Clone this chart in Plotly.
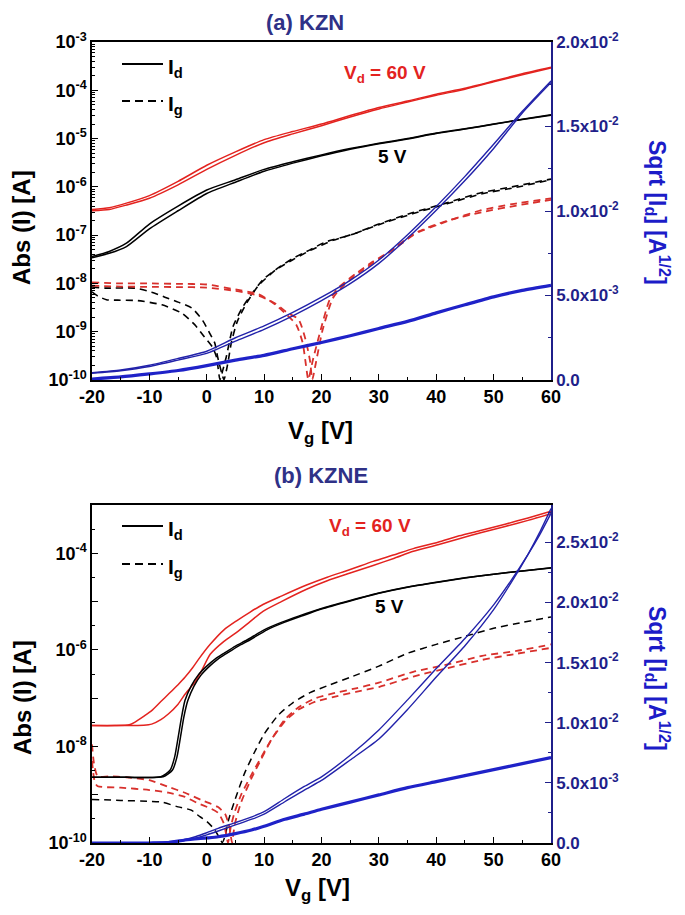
import plotly.graph_objects as go

# ---------------- DATA ----------------
# (a) KZN ------------------------------------------------------
a_id60_fwd_vg = [-20, -17, -14, -10, -5, 0, 5, 10, 15, 20, 25, 30, 35, 40, 45, 50, 55, 60]
a_id60_fwd = [3.4e-7, 3.7e-7, 4.6e-7, 6.6e-7, 1.3e-6, 2.8e-6, 5.3e-6, 9.5e-6, 1.4e-5, 2.0e-5, 3.0e-5,
              4.4e-5, 6.0e-5, 8.3e-5, 1.1e-4, 1.55e-4, 2.2e-4, 3.0e-4]
a_id60_rev_vg = [-20, -17, -14, -10, -5, 0, 5, 10, 15, 20, 25, 30, 35, 40, 45, 50, 55, 60]
a_id60_rev = [3.2e-7, 3.4e-7, 4.2e-7, 5.8e-7, 1.1e-6, 2.3e-6, 4.5e-6, 8.2e-6, 1.25e-5, 1.85e-5, 2.8e-5,
              4.1e-5, 5.7e-5, 7.9e-5, 1.05e-4, 1.5e-4, 2.1e-4, 2.9e-4]
a_id5_fwd_vg = [-20, -17, -14, -10, -5, 0, 5, 10, 15, 20, 25, 30, 35, 40, 45, 50, 55, 60]
a_id5_fwd = [3.6e-8, 4.6e-8, 6.8e-8, 1.7e-7, 4.0e-7, 8.6e-7, 1.4e-6, 2.3e-6, 3.3e-6, 4.6e-6, 6.2e-6,
             8.0e-6, 1.0e-5, 1.3e-5, 1.6e-5, 2.0e-5, 2.5e-5, 3.1e-5]
a_id5_rev_vg = [-20, -17, -14, -10, -5, 0, 5, 10, 15, 20, 25, 30, 35, 40, 45, 50, 55, 60]
a_id5_rev = [3.4e-8, 4.2e-8, 5.8e-8, 1.35e-7, 3.2e-7, 7.3e-7, 1.25e-6, 2.1e-6, 3.1e-6, 4.4e-6, 6.0e-6,
             7.8e-6, 9.8e-6, 1.27e-5, 1.57e-5, 1.98e-5, 2.48e-5, 3.05e-5]
a_ig5_a_vg = [-20, -19, -17.5, -15.5, -12, -7.8, -4.3, -2.1, -0.4, 1.0, 1.7, 2.3, 2.8, 3.4, 4.6, 6.3, 7.5,
              9.8, 12.7, 15, 17.9, 20.8, 25, 30, 35.8, 41.7, 47.5, 53.2, 60]
a_ig5_a = [6.7e-9, 5.5e-9, 4.6e-9, 4.5e-9, 4.4e-9, 3.6e-9, 2.4e-9, 1.4e-9, 7.8e-10, 4.8e-10, 3.0e-10,
           1.02e-10, 1.6e-10, 3.0e-10, 1.3e-9, 3.3e-9, 5.3e-9, 1.2e-8, 2.2e-8, 3.3e-8, 4.9e-8, 7.3e-8,
           1.0e-7, 1.7e-7, 2.9e-7, 4.6e-7, 7.4e-7, 1.0e-6, 1.45e-6]
a_ig5_b_vg = [-20, -17.7, -12.5, -9.6, -7.3, -5, -2.6, -0.7, 0.5, 1.4, 1.9, 2.6, 3.0, 3.6, 4.3, 5.3,
              7, 9, 12, 15, 18, 22, 26, 30, 36, 42, 48, 54, 60]
a_ig5_b = [8.5e-9, 8.0e-9, 8.0e-9, 6.6e-9, 5.2e-9, 4.1e-9, 3.1e-9, 1.7e-9, 9.4e-10, 5.8e-10, 3.0e-10,
           1.4e-10, 1.02e-10, 2.0e-10, 6.0e-10, 1.6e-9, 4.0e-9, 9.0e-9, 1.9e-8, 3.1e-8, 4.8e-8, 7.8e-8,
           1.1e-7, 1.65e-7, 2.8e-7, 4.5e-7, 7.2e-7, 9.8e-7, 1.4e-6]
a_ig60_a_vg = [-20, -15, -10, -5, 0, 5, 9, 12, 14, 15.6, 16.7, 17.3, 17.7, 18.5, 19.7, 21.4, 23.1, 26,
               28.9, 31.8, 35.8, 41.7, 47.5, 53.2, 60]
a_ig60_a = [1.05e-8, 1.0e-8, 1.0e-8, 9.8e-9, 9.5e-9, 7.5e-9, 6.0e-9, 3.6e-9, 2.2e-9, 1.4e-9, 6.0e-10,
            2.0e-10, 1.02e-10, 2.6e-10, 9.3e-10, 4.5e-9, 8.5e-9, 1.6e-8, 2.8e-8, 4.5e-8, 1.0e-7, 1.9e-7,
            3.2e-7, 4.4e-7, 5.8e-7]
a_ig60_b_vg = [-20, -15, -10, -5, 0, 5, 9, 12, 14, 16, 17.2, 18.0, 18.4, 19, 20.2, 22, 24, 27, 30, 33,
               37, 42, 48, 54, 60]
a_ig60_b = [9.0e-9, 8.6e-9, 8.5e-9, 8.4e-9, 8.2e-9, 7.0e-9, 5.6e-9, 3.8e-9, 2.5e-9, 1.8e-9, 7.0e-10,
            2.5e-10, 1.02e-10, 2.2e-10, 1.1e-9, 5.0e-9, 9.5e-9, 1.8e-8, 3.2e-8, 5.5e-8, 1.2e-7, 2.0e-7,
            3.0e-7, 4.1e-7, 5.4e-7]
a_sq60_vg = [-20, -15, -10, -5, 0, 5, 10, 15, 20, 25, 30, 35, 40, 45, 50, 55, 60]
a_sq60_a = [0.00043, 0.00059, 0.00087, 0.00127, 0.0017, 0.0025, 0.0032, 0.0040, 0.0049, 0.0059, 0.0071,
            0.0086, 0.01027, 0.01205, 0.01395, 0.0159, 0.0177]
a_sq60_b = [0.00040, 0.00055, 0.00080, 0.00118, 0.00158, 0.0023, 0.0030, 0.0038, 0.0047, 0.0057, 0.0069,
            0.0084, 0.01005, 0.0118, 0.0137, 0.0158, 0.0176]
a_sq5_vg = [-20, -15, -10, -5, 0, 5, 10, 15, 20, 25, 30, 35, 40, 45, 50, 55, 60]
a_sq5 = [0.00006, 0.00018, 0.00036, 0.00056, 0.00085, 0.00118, 0.00146, 0.00185, 0.00222, 0.00262,
         0.00305, 0.00347, 0.00397, 0.00445, 0.00492, 0.0053, 0.0056]

# (b) KZNE -----------------------------------------------------
b_id60_a_vg = [-20, -16, -13.5, -12.5, -11, -9.6, -8, -6.7, -5, -3.8, -2.5, -1.5, 0.6, 3, 5.2, 7.5, 9.8,
               13, 17.4, 21, 25, 29, 32.7, 36, 40.3, 44, 47.9, 52, 56, 60]
b_id60_a = [2.7e-8, 2.7e-8, 2.8e-8, 3.2e-8, 4.2e-8, 5.5e-8, 8.5e-8, 1.2e-7, 1.9e-7, 2.7e-7, 4.2e-7,
            6.2e-7, 1.3e-6, 2.6e-6, 4.0e-6, 6.0e-6, 8.7e-6, 1.3e-5, 2.2e-5, 3.2e-5, 4.6e-5, 6.8e-5,
            9.3e-5, 1.25e-4, 1.7e-4, 2.3e-4, 3.0e-4, 4.0e-4, 5.4e-4, 7.4e-4]
b_id60_b_vg = [-20, -14, -11, -9.6, -8, -6.7, -5, -3.8, -2, -0.9, 0.6, 3, 5.2, 7.5, 9.8, 13, 17.4, 21,
               25, 29, 32.7, 36, 40.3, 44, 47.9, 52, 56, 60]
b_id60_b = [2.7e-8, 2.7e-8, 2.75e-8, 2.9e-8, 3.6e-8, 4.7e-8, 7.5e-8, 1.2e-7, 2.2e-7, 3.7e-7, 8.1e-7,
            1.5e-6, 2.3e-6, 3.8e-6, 6.3e-6, 1.0e-5, 1.8e-5, 2.7e-5, 3.9e-5, 5.6e-5, 7.9e-5, 1.1e-4,
            1.5e-4, 2.0e-4, 2.7e-4, 3.6e-4, 4.8e-4, 6.6e-4]
b_id5_a_vg = [-20, -14, -8, -6.4, -5.6, -5, -4.4, -3.8, -2.7, -1.5, 0, 1.5, 3, 5, 7, 10, 13, 16, 20, 25,
              30, 35, 40, 45, 50, 55, 60]
b_id5_a = [2.3e-9, 2.3e-9, 2.35e-9, 3.2e-9, 6.0e-9, 1.5e-8, 4.0e-8, 8.9e-8, 1.8e-7, 3.0e-7, 4.6e-7,
           6.5e-7, 8.5e-7, 1.2e-6, 1.6e-6, 2.6e-6, 3.7e-6, 5.0e-6, 7.2e-6, 1.05e-5, 1.5e-5, 2.0e-5,
           2.5e-5, 3.1e-5, 3.7e-5, 4.3e-5, 5.0e-5]
b_id5_b_vg = [-20, -14, -7.6, -6.0, -5.2, -4.6, -4.0, -3.3, -2.2, -1.0, 0.5, 2, 3.5, 5.5, 7.5, 10.5,
              13.5, 16.5, 20, 25, 30, 35, 40, 45, 50, 55, 60]
b_id5_b = [2.3e-9, 2.3e-9, 2.35e-9, 3.2e-9, 6.0e-9, 1.5e-8, 4.0e-8, 8.9e-8, 1.8e-7, 3.0e-7, 4.6e-7,
           6.5e-7, 8.5e-7, 1.2e-6, 1.6e-6, 2.6e-6, 3.7e-6, 5.0e-6, 7.0e-6, 1.03e-5, 1.48e-5, 1.98e-5,
           2.48e-5, 3.08e-5, 3.68e-5, 4.3e-5, 4.95e-5]
b_ig5_vg = [-20, -15, -10, -8, -5, -2.7, -1.2, 0, 1.2, 2.2, 2.7, 3.2, 3.8, 4.9, 6.6, 8.3, 10, 12.5, 15,
            18, 21, 25, 30, 35, 40, 45, 50, 55, 60]
b_ig5 = [8.0e-10, 7.6e-10, 7.3e-10, 7.1e-10, 5.6e-10, 4.8e-10, 3.5e-10, 2.8e-10, 2.0e-10, 1.3e-10,
         1.02e-10, 1.4e-10, 3.0e-10, 7.7e-10, 2.8e-9, 7.5e-9, 1.8e-8, 4.5e-8, 8.0e-8, 1.3e-7, 1.8e-7,
         2.7e-7, 4.6e-7, 8.5e-7, 1.3e-6, 1.9e-6, 2.8e-6, 3.7e-6, 4.8e-6]
b_ig60_a_vg = [-20, -19.6, -19, -17, -14, -10, -6.7, -3.8, -0.9, 1.9, 3.2, 4.0, 4.4, 4.9, 6, 7.8, 9.5,
               11.3, 13.6, 16, 19, 22, 26, 30, 36, 42, 48, 54, 60]
b_ig60_a = [1.1e-8, 4.0e-9, 2.4e-9, 2.4e-9, 2.3e-9, 2.0e-9, 1.45e-9, 1.1e-9, 7.7e-10, 5.6e-10, 4.0e-10,
            2.0e-10, 1.02e-10, 2.5e-10, 7.0e-10, 2.2e-9, 5.5e-9, 1.4e-8, 3.6e-8, 6.5e-8, 1.0e-7, 1.25e-7,
            1.6e-7, 2.1e-7, 3.5e-7, 5.0e-7, 7.5e-7, 9.5e-7, 1.3e-6]
b_ig60_b_vg = [-20, -19.5, -19, -15, -10, -6.7, -3.8, -1.5, 0.5, 2, 3, 3.7, 4.2, 4.9, 6, 7.8, 9.5, 11.3,
               13.6, 16, 19, 22, 26, 30, 36, 42, 48, 54, 60]
b_ig60_b = [5.0e-9, 1.8e-9, 1.5e-9, 1.4e-9, 1.25e-9, 1.1e-9, 9.0e-10, 6.6e-10, 5.3e-10, 4.2e-10, 2.5e-10,
            1.02e-10, 2.2e-10, 4.5e-10, 1.0e-9, 2.6e-9, 6.0e-9, 1.4e-8, 3.3e-8, 5.8e-8, 8.5e-8, 1.05e-7,
            1.35e-7, 1.7e-7, 2.8e-7, 4.2e-7, 6.2e-7, 8.3e-7, 1.1e-6]
b_sq60_vg = [-20, -15, -10, -6.7, -4, -2, 0, 2, 5, 8, 10, 13.6, 17, 20, 25, 30, 35, 40, 45, 50, 53, 56,
             58, 60]
b_sq60_a = [0, 0, 0.00003, 0.0001, 0.00028, 0.00052, 0.00085, 0.00122, 0.0017, 0.0022, 0.0026, 0.0037,
            0.0047, 0.0055, 0.0073, 0.0094, 0.0119, 0.0145, 0.0170, 0.0198, 0.0218, 0.0240, 0.0256, 0.0274]
b_sq60_b = [0, 0, 0.00002, 0.00007, 0.0002, 0.0004, 0.00068, 0.001, 0.0015, 0.002, 0.0024, 0.00343,
            0.0044, 0.0052, 0.0069, 0.00865, 0.0111, 0.0138, 0.0164, 0.0194, 0.0216, 0.0240, 0.0258, 0.0278]
b_sq5_vg = [-20, -10, -6.7, -3.8, 0, 2, 5, 7.8, 10, 13.6, 17, 20, 25, 30, 35, 40, 45, 50, 55, 60]
b_sq5 = [0, 0, 0.00003, 0.00025, 0.00042, 0.00052, 0.00078, 0.00108, 0.0014, 0.00197, 0.0024, 0.0028,
         0.0034, 0.0040, 0.0046, 0.0051, 0.0056, 0.0061, 0.0066, 0.0071]

# tick labels
x_ticks = [-20, -10, 0, 10, 20, 30, 40, 50, 60]
a_log_exps = [-10, -9, -8, -7, -6, -5, -4, -3]
b_log_exps = [-10, -8, -6, -4]
a_right_ticks = [0.0, 0.005, 0.010, 0.015, 0.020]
a_right_text = ["0.0", "5.0x10<sup>-3</sup>", "1.0x10<sup>-2</sup>", "1.5x10<sup>-2</sup>", "2.0x10<sup>-2</sup>"]
b_right_ticks = [0.0, 0.005, 0.010, 0.015, 0.020, 0.025]
b_right_text = ["0.0", "5.0x10<sup>-3</sup>", "1.0x10<sup>-2</sup>", "1.5x10<sup>-2</sup>",
                "2.0x10<sup>-2</sup>", "2.5x10<sup>-2</sup>"]

# ---------------- STYLE ----------------
FONT = "Liberation Sans"
RED = "#e3231f"
RED_D = "#d8302c"
BLACK = "#000000"
BLUE_S = "#2222aa"
BLUE_T = "#1f22c8"
NAVY = "#1f1f8a"
TITLE_C = "#2f3187"
DASH = "7px,5px"

fig = go.Figure()


def line(x, y, color, width, xa, ya, dash=None):
    fig.add_trace(go.Scatter(x=x, y=y, mode="lines", xaxis=xa, yaxis=ya, showlegend=False,
                             hoverinfo="skip",
                             line=dict(color=color, width=width, dash=dash or "solid", shape="spline",
                                       smoothing=0.6)))


# panel (a)
line(a_ig5_a_vg, a_ig5_a, BLACK, 1.6, "x", "y", DASH)
line(a_ig5_b_vg, a_ig5_b, BLACK, 1.6, "x", "y", DASH)
line(a_ig60_a_vg, a_ig60_a, RED_D, 1.8, "x", "y", DASH)
line(a_ig60_b_vg, a_ig60_b, RED_D, 1.8, "x", "y", DASH)
line(a_id60_fwd_vg, a_id60_fwd, RED, 1.5, "x", "y")
line(a_id60_rev_vg, a_id60_rev, RED, 1.5, "x", "y")
line(a_id5_fwd_vg, a_id5_fwd, BLACK, 1.5, "x", "y")
line(a_id5_rev_vg, a_id5_rev, BLACK, 1.5, "x", "y")
line(a_sq60_vg, a_sq60_a, BLUE_S, 1.4, "x", "y2")
line(a_sq60_vg, a_sq60_b, BLUE_S, 1.4, "x", "y2")
line(a_sq5_vg, a_sq5, BLUE_T, 3.2, "x", "y2")

# panel (b)
line(b_ig5_vg, b_ig5, BLACK, 1.5, "x2", "y3", DASH)
line(b_ig60_a_vg, b_ig60_a, RED_D, 1.8, "x2", "y3", DASH)
line(b_ig60_b_vg, b_ig60_b, RED_D, 1.8, "x2", "y3", DASH)
line(b_id60_a_vg, b_id60_a, RED, 1.5, "x2", "y3")
line(b_id60_b_vg, b_id60_b, RED, 1.5, "x2", "y3")
line(b_id5_a_vg, b_id5_a, BLACK, 1.5, "x2", "y3")
line(b_id5_b_vg, b_id5_b, BLACK, 1.5, "x2", "y3")
line(b_sq60_vg, b_sq60_a, BLUE_S, 1.4, "x2", "y4")
line(b_sq60_vg, b_sq60_b, BLUE_S, 1.4, "x2", "y4")
line(b_sq5_vg, b_sq5, BLUE_T, 3.2, "x2", "y4")

# ---------------- LAYOUT ----------------
OFF = 8                      # default page margin of the html body
W, H = 685 - 2 * OFF, 915 - 2 * OFF
PL, PR = 92, 551             # plot left/right in page pixels
L = PL - OFF
R = W - (PR - OFF)
x_frac = lambda px: (px - PL) / (PR - PL)
y_frac = lambda py: 1 - (py - OFF) / H

A_DOM = [y_frac(380), y_frac(42)]
B_DOM = [y_frac(843), y_frac(505)]

tickfont = dict(family=FONT, size=18, color="black", weight="bold")
rtickfont = dict(family=FONT, size=17, color=NAVY, weight="bold")

xcommon = dict(range=[-20, 60], tickmode="array", tickvals=x_ticks, ticktext=[str(v) for v in x_ticks],
               ticks="inside", ticklen=6, tickwidth=1, tickcolor="black", showline=True, linecolor="black",
               linewidth=1.5, mirror=True, showgrid=False, zeroline=False, tickfont=tickfont,
               automargin=False,
               minor=dict(ticks="inside", ticklen=3, tickcolor="black", dtick=5, tick0=-20, showgrid=False))

a_minor = [k * 10.0 ** n for n in range(-10, -3) for k in range(2, 10)]
b_minor = [10.0 ** (n + 0.5) for n in range(-10, -3)]


def ylog(exps, labeled, minor_vals, dom, anchor):
    return dict(type="log", range=[-10, -3], domain=dom, anchor=anchor, tickmode="array",
                tickvals=[10.0 ** e for e in exps],
                ticktext=[("10<sup>%d</sup>" % e) if e in labeled else "" for e in exps],
                ticks="inside", ticklen=6, tickcolor="black", showline=True, linecolor="black", linewidth=1.5,
                showgrid=False, zeroline=False, tickfont=tickfont, automargin=False,
                minor=dict(ticks="inside", ticklen=3, tickcolor="black", tickvals=minor_vals, showgrid=False))


def yright(rng, tv, tt, ov, anchor):
    return dict(range=rng, overlaying=ov, side="right", anchor=anchor, tickmode="array", tickvals=tv,
                ticktext=tt, ticks="inside", ticklen=6, tickcolor=NAVY, showline=True, linecolor=NAVY,
                linewidth=1.5, showgrid=False, zeroline=False, tickfont=rtickfont, automargin=False,
                minor=dict(ticks="inside", ticklen=3, tickcolor=NAVY, dtick=0.0025, tick0=0, showgrid=False))


fig.update_layout(
    width=W, height=H, margin=dict(l=L, r=R, t=0, b=0, autoexpand=False),
    paper_bgcolor="white", plot_bgcolor="white", showlegend=False,
    font=dict(family=FONT, color="black"),
    xaxis=dict(domain=[0, 1], anchor="y", **xcommon),
    xaxis2=dict(domain=[0, 1], anchor="y3", **xcommon),
    yaxis=ylog(list(range(-10, -2)), a_log_exps, a_minor, A_DOM, "x"),
    yaxis2=yright([0, 0.02], a_right_ticks, a_right_text, "y", "x"),
    yaxis3=ylog(list(range(-10, -2)), b_log_exps, b_minor, B_DOM, "x2"),
    yaxis4=yright([0, 0.0281], b_right_ticks, b_right_text, "y3", "x2"),
)

# hand-drawn legend (line samples + labels) in each panel
shapes = []
ann = []


def text(t, px, py, font, angle=0, xanchor="center"):
    ann.append(dict(text=t, x=x_frac(px), y=y_frac(py), xref="paper", yref="paper", xanchor=xanchor,
                    yanchor="middle", textangle=angle, showarrow=False, font=font))


leg_font = dict(family=FONT, size=21, color="black", weight="bold")
for yd, yg in ((64, 101), (526, 564)):
    shapes.append(dict(type="line", xref="paper", yref="paper", x0=x_frac(122), x1=x_frac(163),
                       y0=y_frac(yd), y1=y_frac(yd), line=dict(color=BLACK, width=2)))
    shapes.append(dict(type="line", xref="paper", yref="paper", x0=x_frac(122), x1=x_frac(163),
                       y0=y_frac(yg), y1=y_frac(yg), line=dict(color=BLACK, width=2, dash="8px,5px")))
    text("I<sub>d</sub>", 166, yd + 4, leg_font, xanchor="left")
    text("I<sub>g</sub>", 166, yg + 4, leg_font, xanchor="left")

title_font = dict(family=FONT, size=22, color=TITLE_C, weight="bold")
text("(a) KZN", 305, 22, title_font)
text("(b) KZNE", 321, 475, title_font)
axt_font = dict(family=FONT, size=24, color="black", weight="bold")
sq_font = dict(family=FONT, size=23, color="#1c1cc8", weight="bold")
for yl, yr in ((228, 212), (698, 678)):
    text("Abs (I) [A]", 22, yl, axt_font, angle=-90)
    text("Sqrt [I<sub>d</sub>] [A<sup>1/2</sup>]", 658, yr, sq_font, angle=90)
for xc, yc in ((320, 432), (317, 889)):
    text("V<sub>g</sub> [V]", xc, yc, axt_font)

red_font = dict(family=FONT, size=19, color=RED, weight="bold")
ann.append(dict(text="V<sub>d</sub> = 60 V", x=31.1, y=-3.66, xref="x", yref="y", showarrow=False,
                font=red_font))
ann.append(dict(text="V<sub>d</sub> = 60 V", x=28.5, y=-3.46, xref="x2", yref="y3", showarrow=False,
                font=red_font))
blk_font = dict(family=FONT, size=19, color="black", weight="bold")
ann.append(dict(text="5 V", x=32.3, y=-5.38, xref="x", yref="y", showarrow=False, font=blk_font))
ann.append(dict(text="5 V", x=31.9, y=-5.11, xref="x2", yref="y3", showarrow=False, font=blk_font))
fig.update_layout(annotations=ann, shapes=shapes)

fig.write_html("out.html")
